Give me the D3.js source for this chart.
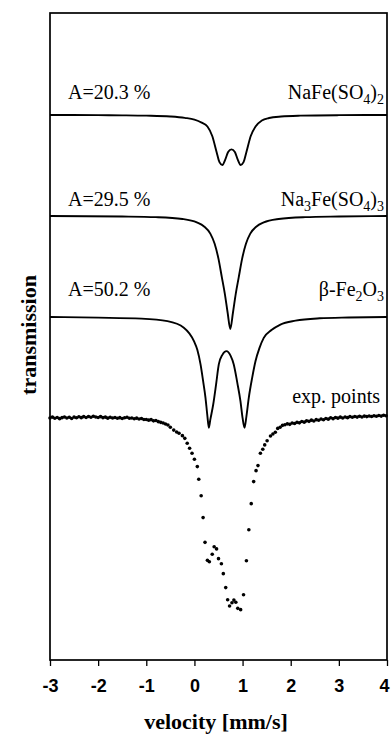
<!DOCTYPE html>
<html>
<head>
<meta charset="utf-8">
<script src="https://cdn.jsdelivr.net/npm/d3@7.9.0/dist/d3.min.js"></script>
<style>
  body { margin: 0; background: #fff; }
  svg { display: block; }
</style>
</head>
<body>
<svg id="chart" width="391" height="734"></svg>
<script>
// velocity ticks on the bottom axis
const velocityTicks = [-3, -2, -1, 0, 1, 2, 3, 4];

// fitted sub-spectra, relative transmission (%) vs velocity (mm/s)
const nafeVelocity = [-3, -2, -1.5, -1.0, -0.5, -0.2, 0.0, 0.15, 0.27, 0.37, 0.46, 0.52, 0.58, 0.64, 0.70, 0.77,
  0.84, 0.90, 0.96, 1.02, 1.08, 1.17, 1.27, 1.40, 1.55, 1.8, 2.2, 3.0, 4.0];
const nafeTransmission = [0, -0.01, -0.02, -0.04, -0.09, -0.17, -0.27, -0.45, -0.68, -1.25, -2.2, -2.8, -2.97, -2.65, -2.2, -2.04,
  -2.2, -2.65, -2.97, -2.8, -2.2, -1.25, -0.68, -0.33, -0.18, -0.09, -0.04, -0.01, 0];

const na3feVelocity = [-3, -1.5, -0.8, -0.25, 0.05, 0.20, 0.33, 0.42, 0.50, 0.57, 0.63, 0.69, 0.745, 0.80, 0.86, 0.92,
  0.99, 1.07, 1.16, 1.29, 1.44, 1.75, 2.3, 3.0, 4.0];
const na3feTransmission = [0, -0.03, -0.07, -0.18, -0.38, -0.62, -1.05, -1.65, -2.55, -3.65, -4.6, -5.75, -6.71, -5.75, -4.6, -3.65,
  -2.55, -1.65, -1.05, -0.62, -0.38, -0.18, -0.07, -0.03, 0];

const betaVelocity = [-3, -2, -1.1, -0.56, -0.22, -0.01, 0.06, 0.127, 0.18, 0.23, 0.27, 0.30, 0.33, 0.39, 0.45, 0.506,
  0.58, 0.666, 0.75, 0.817, 0.89, 0.956, 1.00, 1.04, 1.08, 1.129, 1.20, 1.268, 1.35, 1.44, 1.6, 1.786, 2.1, 2.6, 3.2, 4.0];
const betaTransmission = [0, -0.04, -0.1, -0.25, -0.64, -1.44, -1.95, -2.82, -3.8, -4.8, -5.9, -6.58, -6.1, -5.2, -4.0, -2.82,
  -2.25, -2.03, -2.3, -2.82, -3.9, -5.0, -6.0, -6.58, -5.9, -4.8, -3.6, -2.63, -1.85, -1.24, -0.78, -0.45, -0.22, -0.08, -0.03, 0];

// measured spectrum
const expVelocity = [
  -3.00, -2.95, -2.90, -2.85, -2.80, -2.75, -2.70, -2.65, -2.60, -2.55,
  -2.50, -2.45, -2.40, -2.35, -2.30, -2.25, -2.20, -2.15, -2.10, -2.05,
  -2.00, -1.95, -1.90, -1.85, -1.80, -1.75, -1.70, -1.65, -1.60, -1.55,
  -1.50, -1.45, -1.40, -1.35, -1.30, -1.25, -1.20, -1.15, -1.10, -1.05,
  -1.00, -0.95, -0.90, -0.85, -0.80, -0.75, -0.70, -0.65, -0.60, -0.55,
  -0.50, -0.43, -0.37, -0.32, -0.25, -0.20, -0.15, -0.10, -0.05, 0.00,
  0.06, 0.09, 0.14, 0.18, 0.22, 0.27, 0.31, 0.37, 0.41, 0.46,
  0.50, 0.56, 0.60, 0.65, 0.69, 0.73, 0.78, 0.82, 0.86, 0.90,
  0.96, 1.02, 1.08, 1.13, 1.18, 1.23, 1.28, 1.32, 1.37, 1.42,
  1.46, 1.51, 1.58, 1.63, 1.68, 1.73, 1.78, 1.83, 1.88, 1.93,
  1.98, 2.03, 2.08, 2.13, 2.18, 2.23, 2.28, 2.33, 2.38, 2.43,
  2.48, 2.53, 2.58, 2.63, 2.68, 2.73, 2.78, 2.83, 2.88, 2.93,
  2.98, 3.03, 3.08, 3.13, 3.18, 3.23, 3.28, 3.33, 3.38, 3.43,
  3.48, 3.53, 3.58, 3.63, 3.68, 3.73, 3.78, 3.83, 3.88, 3.93, 3.98
];
const expTransmission = [
  0.00, 0.05, -0.02, 0.03, -0.04, 0.02, 0.06, 0.00, 0.04, -0.03,
  0.05, 0.01, 0.07, 0.02, 0.08, 0.03, 0.09, 0.04, 0.10, 0.06,
  0.03, 0.08, 0.02, 0.05, -0.01, 0.04, 0.00, 0.03, -0.02, 0.02,
  -0.03, 0.01, 0.04, -0.02, 0.00, -0.05, -0.01, -0.06, -0.03, -0.09,
  -0.09, -0.13, -0.10, -0.17, -0.15, -0.22, -0.26, -0.30, -0.36, -0.42,
  -0.55, -0.72, -0.83, -0.91, -1.05, -1.21, -1.50, -1.80, -2.10, -2.45,
  -2.89, -3.64, -4.62, -5.92, -7.39, -8.46, -8.54, -8.10, -7.65, -7.78,
  -8.36, -8.66, -9.25, -10.08, -10.80, -11.17, -10.98, -10.82, -10.95, -11.31,
  -11.39, -10.50, -8.48, -6.64, -5.09, -3.78, -3.13, -2.83, -2.10, -1.86,
  -1.60, -1.35, -1.07, -0.95, -0.85, -0.62, -0.55, -0.44, -0.40, -0.35,
  -0.38, -0.30, -0.33, -0.26, -0.29, -0.21, -0.25, -0.17, -0.20, -0.13,
  -0.18, -0.10, -0.14, -0.06, -0.11, -0.03, -0.07, 0.01, -0.04, 0.03,
  -0.01, 0.05, 0.00, 0.06, 0.02, 0.08, 0.04, 0.09, 0.05, 0.10,
  0.06, 0.11, 0.08, 0.12, 0.09, 0.13, 0.10, 0.15, 0.11, 0.16, 0.13
];

// vertical offsets that stack the spectra
const componentOffsets = [18, 12, 6];
const expOffset = 0;

const componentAreas = ['A=20.3 %', 'A=29.5 %', 'A=50.2 %'];
// names as [text, subscript?] pieces
const componentNames = [
  [['NaFe(SO', 0], ['4', 1], [')', 0], ['2', 1]],
  [['Na', 0], ['3', 1], ['Fe(SO', 0], ['4', 1], [')', 0], ['3', 1]],
  [['β-Fe', 0], ['2', 1], ['O', 0], ['3', 1]]
];
const expName = 'exp. points';

const components = [
  nafeVelocity.map((v, i) => ({ v: v, t: nafeTransmission[i] })),
  na3feVelocity.map((v, i) => ({ v: v, t: na3feTransmission[i] })),
  betaVelocity.map((v, i) => ({ v: v, t: betaTransmission[i] }))
];
const expPoints = expVelocity.map((v, i) => ({ v: v, t: expTransmission[i] }));

const svg = d3.select('#chart');

let x = d3.scaleLinear().domain([-3, 4]).range([50, 387]);
let y = d3.scaleLinear().domain([-14.38, 24.06]).range([660, 13]);

const serif = '"Liberation Serif", "Times New Roman", serif';
const sans = '"Liberation Sans", Arial, sans-serif';

// frame
svg.append('rect')
  .attr('x', x(-3))
  .attr('y', y(24.06))
  .attr('width', x(4) - x(-3))
  .attr('height', y(-14.38) - y(24.06))
  .attr('fill', 'none')
  .attr('stroke', '#000')
  .attr('stroke-width', 1.7);

// bottom axis
let xAxis = svg.append('g')
  .attr('transform', `translate(0,${y(-14.38)})`)
  .call(d3.axisBottom(x).tickValues(velocityTicks).tickSize(6).tickPadding(13).tickFormat((d) => String(d)));
xAxis.select('.domain').remove();
xAxis.selectAll('line').attr('stroke', '#000').attr('stroke-width', 1.3);
xAxis.selectAll('text')
  .attr('fill', '#000')
  .attr('dx', (d) => (d === 4 ? -3 : 0))
  .style('font-family', sans)
  .style('font-weight', 'bold')
  .style('font-size', '18px');

// fitted components
let line = d3.line()
  .x((d) => x(d.v))
  .curve(d3.curveMonotoneX);

components.forEach((data, idx) => {
  svg.append('path')
    .attr('d', line.y((d) => y(d.t + componentOffsets[idx]))(data))
    .attr('fill', 'none')
    .attr('stroke', '#000')
    .attr('stroke-width', 1.9);
});

// experimental points
svg.append('g')
  .selectAll('circle')
  .data(expPoints)
  .join('circle')
  .attr('cx', (d) => x(d.v))
  .attr('cy', (d) => y(d.t + expOffset))
  .attr('r', 1.8)
  .attr('fill', '#000');

// labels
const labelGaps = [15.5, 10, 20.5];

componentAreas.forEach((area, idx) => {
  let base = y(componentOffsets[idx]) - labelGaps[idx];
  svg.append('text')
    .attr('x', 68)
    .attr('y', base)
    .style('font-family', serif)
    .style('font-size', '20px')
    .text(area);

  let name = svg.append('text')
    .attr('x', 384)
    .attr('y', base)
    .attr('text-anchor', 'end')
    .style('font-family', serif)
    .style('font-size', '20px');
  let shifted = false;
  componentNames[idx].forEach(([txt, sub]) => {
    let ts = name.append('tspan').text(txt);
    if (sub && !shifted) { ts.attr('dy', 5); shifted = true; }
    if (!sub && shifted) { ts.attr('dy', -5); shifted = false; }
    if (sub) ts.style('font-size', '14px');
  });
});

svg.append('text')
  .attr('x', 380)
  .attr('y', y(expOffset) - 15)
  .attr('text-anchor', 'end')
  .style('font-family', serif)
  .style('font-size', '20px')
  .text(expName);

// axis titles
svg.append('text')
  .attr('x', 216)
  .attr('y', 729)
  .attr('text-anchor', 'middle')
  .style('font-family', serif)
  .style('font-weight', 'bold')
  .style('font-size', '22px')
  .text('velocity [mm/s]');

svg.append('text')
  .attr('transform', 'translate(36,335) rotate(-90)')
  .attr('text-anchor', 'middle')
  .style('font-family', serif)
  .style('font-weight', 'bold')
  .style('font-size', '22px')
  .text('transmission');
</script>
</body>
</html>
